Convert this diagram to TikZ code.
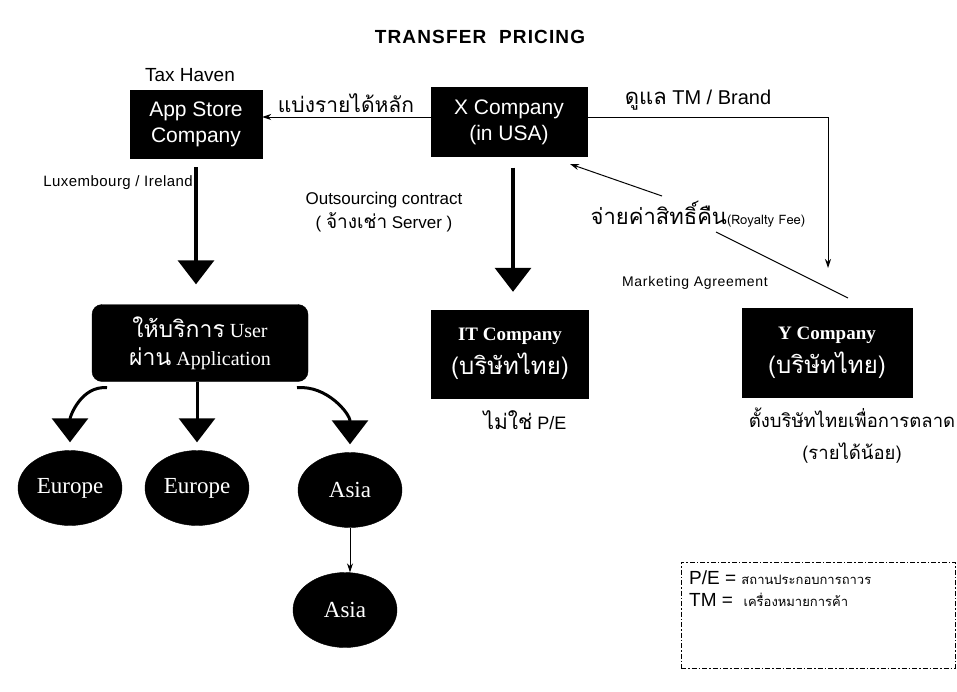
\documentclass[tikz,border=0pt]{standalone}
\usepackage{fontspec}
\setmainfont{Liberation Sans}
\newfontfamily\thaifont[Script=Thai]{Loma}
\newfontfamily\romanfont{Liberation Serif}
\usetikzlibrary{positioning, arrows.meta, shapes.geometric, calc}

\begin{document}
\begin{tikzpicture}[
    x=1pt, y=-1pt,
    blackbox/.style={
        fill=black, draw=black, text=white, align=center,
        inner sep=2pt
    },
    region/.style={
        ellipse, fill=black, draw=black, text=white,
        minimum width=104pt, minimum height=75pt, inner sep=0pt,
        font=\romanfont\fontsize{23}{26}\selectfont
    },
    thinarr/.style={
        -{Stealth[length=9pt, width=6pt]}, line width=1pt
    },
    bigarr/.style={
        -{Triangle[length=24pt, width=36pt]}, line width=3.5pt
    },
    note/.style={
        font=\fontsize{#1}{#1}\selectfont, inner sep=1pt
    }
]
\useasboundingbox (0,0) rectangle (957,691);

% Title
\node[font=\bfseries\fontsize{19}{21}\selectfont\addfontfeature{LetterSpace=6}] (title) at (480,37) {TRANSFER\ \ PRICING};

% Top row
\node[note=19] (taxhaven) at (190,75) {Tax Haven};
\node[blackbox, minimum width=132pt, minimum height=68pt,
      font=\fontsize{21}{26}\selectfont] (appstore) at (196,124) {App Store\\Company};
\node[blackbox, minimum width=156pt, minimum height=69pt,
      font=\fontsize{21}{26}\selectfont] (xcomp) at (509,122) {X Company\\(in USA)};

\draw[thinarr] ([yshift=5pt]xcomp.west) -- ([yshift=5pt]xcomp.west -| appstore.east);
\node[note=21, anchor=south] (share) at (346,114) {\thaifont แบ่งรายได้หลัก};

% TM / Brand
\coordinate (tmend) at (828,268);
\draw[thinarr] ([yshift=5pt]xcomp.east) -| (tmend);
\node[note=20, anchor=south] (tmbrand) at (698,111) {{\thaifont\fontsize{22}{22}\selectfont ดูแล} TM / Brand};

% Royalty fee
\node[note=22] (royalty) at (698,214) {\thaifont จ่ายค่าสิทธิ์คืน{\fontsize{13}{13}\selectfont(Royalty Fee)}};
\coordinate (royaltytail) at (662,196);
\coordinate (royaltyhead) at (570,164);
\draw[thinarr] (royaltytail) -- (royaltyhead);
\coordinate (mktstart) at (716,232);
\coordinate (mktend) at (848,298);
\draw[line width=1pt] (mktstart) -- (mktend);
\node[note=14, font=\fontsize{14}{14}\selectfont\addfontfeature{LetterSpace=5}] (marketing) at (695,283) {Marketing Agreement};

% Outsourcing
\node[note=17, align=center] (outsrc) at (384,212) {Outsourcing contract\\[3pt]( {\thaifont\fontsize{19}{19}\selectfont จ้างเช่า} Server )};
\node[note=15, font=\fontsize{15}{15}\selectfont\addfontfeature{LetterSpace=3}, anchor=east] (luxir) at (194,183) {Luxembourg / Ireland};

% Lower row
\node[blackbox, rounded corners=10pt, minimum width=216pt, minimum height=77pt,
      font=\romanfont\fontsize{20}{28}\selectfont] (service) at (200,343)
      {{\thaifont\fontsize{23}{23}\selectfont ให้บริการ} User\\{\thaifont\fontsize{23}{23}\selectfont ผ่าน} Application};
\node[blackbox, minimum width=157pt, minimum height=88pt,
      font=\fontsize{19}{34}\selectfont] (itcomp) at (510,354)
      {{\romanfont\bfseries IT Company}\\{\thaifont\fontsize{24}{24}\selectfont (บริษัทไทย)}};
\node[blackbox, minimum width=170pt, minimum height=89pt,
      font=\fontsize{19}{34}\selectfont] (ycomp) at (827,353)
      {{\romanfont\bfseries Y Company}\\{\thaifont\fontsize{24}{24}\selectfont (บริษัทไทย)}};

\node[note=18] (notpe) at (525,420) {{\thaifont\fontsize{21}{21}\selectfont ไม่ใช่} P/E};
\node[note=18, align=center, font=\thaifont\fontsize{18.5}{32}\selectfont] (ymarket) at (852,436)
      {ตั้งบริษัทไทยเพื่อการตลาด\\(รายได้น้อย)};

% Big arrows
\draw[bigarr] ([yshift=-9pt]appstore.south) -- ([yshift=20pt]appstore.south |- service.north);
\draw[bigarr] ([xshift=4pt, yshift=-11pt]xcomp.south) -- ([xshift=4pt, yshift=18pt]xcomp.south |- itcomp.north);

% Regions
\node[region] (europea) at (70,488) {Europe};
\node[region] (europeb) at (197,488) {Europe};
\node[region] (asiaa) at (350,490) {Asia};
\node[region] (asiab) at (345,610) {Asia};

\draw[bigarr, line width=3pt] ([xshift=-93pt, yshift=-6pt]service.south) to[out=175, in=90] ([yshift=8pt]europea.north);
\draw[bigarr, line width=3pt] (service.south -| europeb.north) -- ([yshift=8pt]europeb.north);
\draw[bigarr, line width=3pt] ([xshift=97pt, yshift=-6pt]service.south) to[out=5, in=90] ([yshift=8pt]asiaa.north);
\draw[thinarr] (asiaa.south) -- (asiaa.south |- asiab.north);

% Legend
\node[draw, dash pattern=on 5pt off 2pt on 1.5pt off 2pt, line width=0.9pt,
      minimum width=274pt, minimum height=106pt] (legend) at (818,615) {};
\node[note=19, anchor=north west, align=left, font=\fontsize{19}{22}\selectfont] (legtext) at (688,570)
      {P/E = {\thaifont\fontsize{13}{13}\selectfont สถานประกอบการถาวร}\\
       TM = \ {\thaifont\fontsize{13}{13}\selectfont เครื่องหมายการค้า}};

\end{tikzpicture}
\end{document}
